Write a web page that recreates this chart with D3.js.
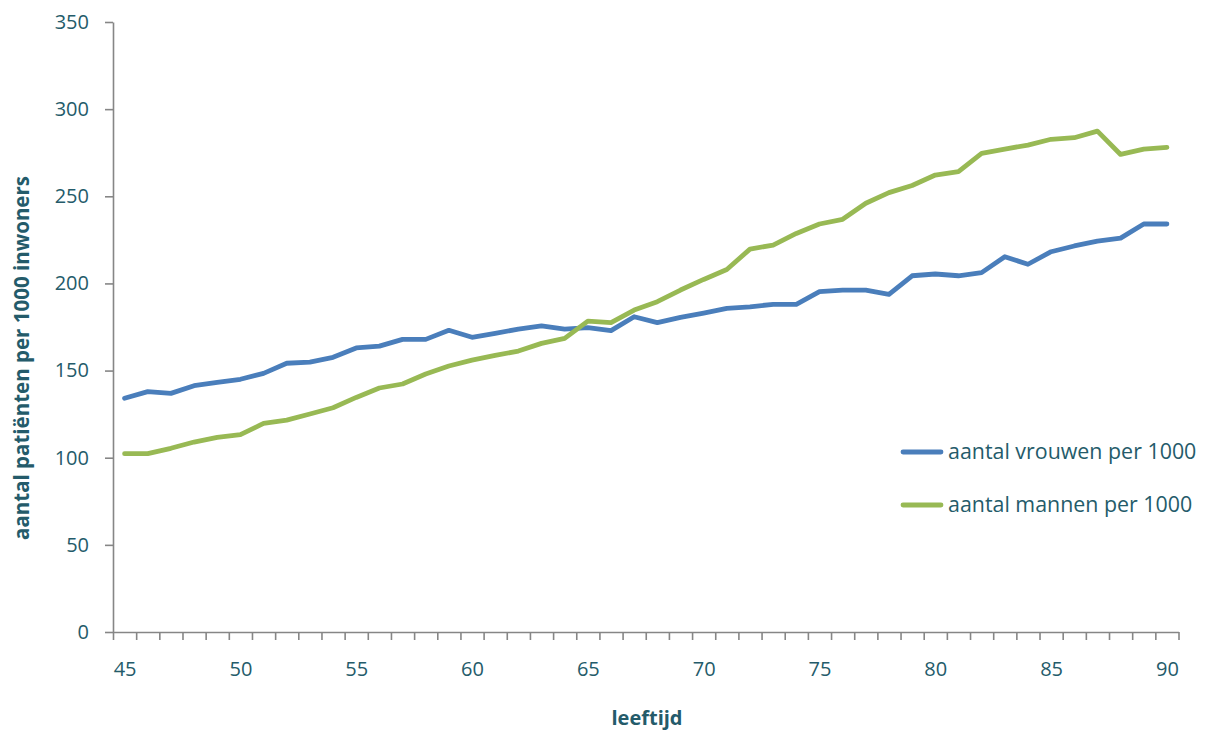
<!DOCTYPE html>
<html>
<head>
<meta charset="utf-8">
<script src="https://cdn.jsdelivr.net/npm/d3@7"></script>
<style>
  html, body { margin: 0; padding: 0; background: #fff; }
  svg { display: block; }
  text { font-family: "Open Sans", "DejaVu Sans", sans-serif; fill: #245b6a; }
</style>
</head>
<body>
<svg id="chart" width="1212" height="730"></svg>
<script>
// Leeftijden 45 t/m 90
const ages = [45,46,47,48,49,50,51,52,53,54,55,56,57,58,59,60,61,62,63,64,65,66,67,68,69,70,
              71,72,73,74,75,76,77,78,79,80,81,82,83,84,85,86,87,88,89,90];

// Aantal patiënten per 1000 vrouwen
const vrouwen = [134.1,137.9,136.9,141.3,143.2,145.0,148.4,154.2,154.9,157.6,163.0,164.0,167.9,167.9,
                 173.1,169.1,171.4,173.8,175.6,173.8,174.6,172.9,180.9,177.5,180.5,183.0,185.7,186.6,
                 188.0,188.0,195.3,196.2,196.2,193.7,204.4,205.4,204.4,206.2,215.3,211.0,218.2,221.5,
                 224.3,226.0,234.1,234.1];

// Aantal patiënten per 1000 mannen
const mannen = [102.3,102.3,105.4,109.0,111.7,113.2,119.7,121.6,125.1,128.7,134.6,140.0,142.3,148.0,
                152.6,156.0,158.7,161.2,165.6,168.5,178.4,177.5,184.7,189.5,196.2,202.3,208.0,219.7,
                222.0,228.7,234.1,236.8,246.0,252.1,256.2,262.2,264.1,274.6,277.1,279.4,282.7,283.6,
                287.4,274.0,277.1,278.1];

const yTicks = [0, 50, 100, 150, 200, 250, 300, 350];
const xLabels = [45, 50, 55, 60, 65, 70, 75, 80, 85, 90];

const seriesNames = ["aantal vrouwen per 1000", "aantal mannen per 1000"];
const seriesColors = ["#4a7ebb", "#98b954"];

const svg = d3.select("#chart");
const plotLeft = 113, plotRight = 1178.5, plotTop = 22, plotBottom = 632;
const axisColor = "#868686";

// Categorie-as: elke leeftijd krijgt een vak, punten in het midden van het vak
const x = d3.scaleLinear().domain([ages[0] - 0.5, ages[ages.length - 1] + 0.5]).range([plotLeft, plotRight]);
const y = d3.scaleLinear().domain([0, 350]).range([plotBottom, plotTop]);

// Y-as
const yAxis = svg.append("g")
  .attr("transform", `translate(${plotLeft},0)`)
  .call(d3.axisLeft(y).tickValues(yTicks).tickSize(8).tickSizeOuter(0).tickPadding(16));
yAxis.selectAll("path, line").attr("stroke", axisColor).attr("stroke-width", 1.6);
yAxis.selectAll("text").style("font-size", "20px").attr("fill", "#245b6a");

// X-as: streepjes op de vakgrenzen
const boundaries = d3.range(ages[0] - 0.5, ages[ages.length - 1] + 0.51, 1);
const xTickAxis = svg.append("g")
  .attr("transform", `translate(0,${plotBottom})`)
  .call(d3.axisBottom(x).tickValues(boundaries).tickSize(8).tickSizeOuter(0).tickFormat(""));
xTickAxis.selectAll("path, line").attr("stroke", axisColor).attr("stroke-width", 1.6);

// X-as: labels om de vijf jaar, in het midden van het vak
const xLabelAxis = svg.append("g")
  .attr("transform", `translate(0,${plotBottom})`)
  .call(d3.axisBottom(x).tickValues(xLabels).tickSize(0).tickPadding(30).tickFormat(d3.format("d")));
xLabelAxis.select(".domain").remove();
xLabelAxis.selectAll("text").style("font-size", "20px").attr("fill", "#245b6a");

// Lijnen
const line = d3.line().x(d => x(d[0])).y(d => y(d[1]));
[vrouwen, mannen].forEach((vals, i) => {
  svg.append("path")
    .datum(ages.map((a, k) => [a, vals[k]]))
    .attr("fill", "none")
    .attr("stroke", seriesColors[i])
    .attr("stroke-width", 4.8)
    .attr("stroke-linejoin", "round")
    .attr("stroke-linecap", "round")
    .attr("d", line);
});

// Legenda
const legend = svg.append("g");
seriesNames.forEach((name, i) => {
  const ly = 452 + i * 53;
  legend.append("line")
    .attr("x1", 903).attr("x2", 941).attr("y1", ly).attr("y2", ly)
    .attr("stroke", seriesColors[i]).attr("stroke-width", 4.8).attr("stroke-linecap", "round");
  legend.append("text")
    .attr("x", 948).attr("y", ly).attr("dy", "0.35em")
    .style("font-size", "21.4px")
    .text(name);
});

// Astitels
svg.append("text")
  .attr("transform", `translate(29,358) rotate(-90)`)
  .attr("text-anchor", "middle")
  .style("font-size", "20.5px").style("font-weight", "bold")
  .text("aantal patiënten per 1000 inwoners");

svg.append("text")
  .attr("x", 647).attr("y", 725)
  .attr("text-anchor", "middle")
  .style("font-size", "20px").style("font-weight", "bold")
  .text("leeftijd");
</script>
</body>
</html>
